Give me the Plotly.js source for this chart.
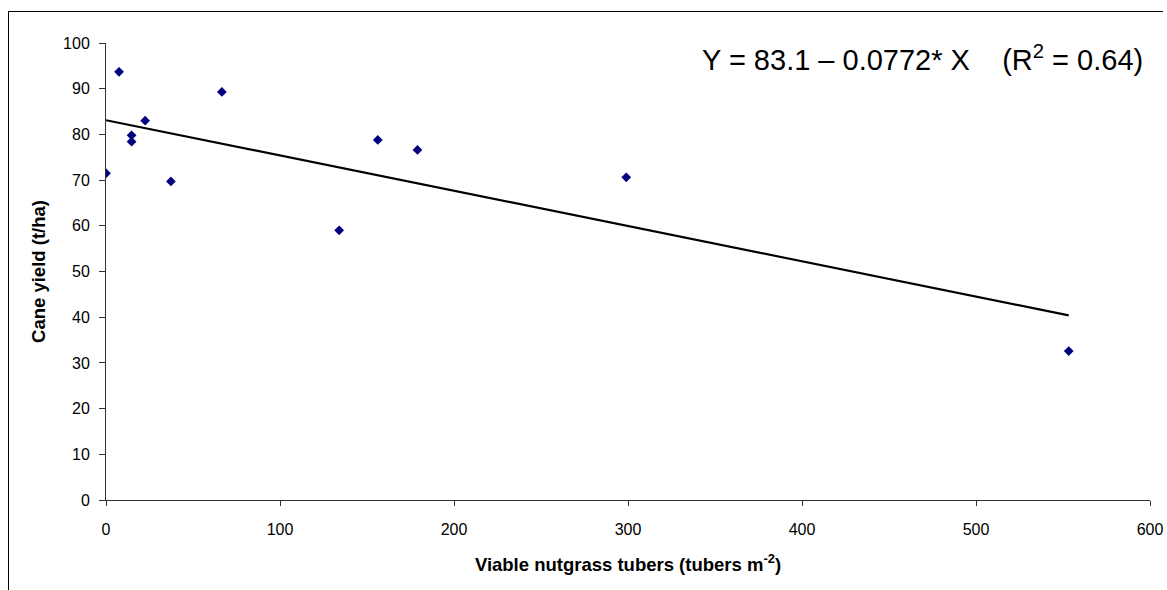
<!DOCTYPE html>
<html>
<head>
<meta charset="utf-8">
<script src="https://cdn.plot.ly/plotly-3.0.1.min.js"></script>
<style>
  html, body { margin: 0; padding: 0; background: #fff; }
  #wrap { position: relative; width: 1167px; height: 590px; }
  #chart { width: 1167px; height: 590px; }
  #frame { position: absolute; left: 8px; top: 11px; width: 1154px; height: 600px;
           border-left: 1px solid #000; border-top: 1px solid #000; pointer-events: none; }
</style>
</head>
<body>
<div id="wrap">
  <div id="chart"></div>
  <div id="frame"></div>
</div>
<script>
// Observed data (viable tubers per m2, cane yield t/ha)
const tubers = [0, 7.5, 14.7, 14.7, 22.5, 37.3, 66.6, 134, 156.2, 179, 299, 553.3];
const caneYield = [71.5, 93.7, 79.8, 78.4, 83.0, 69.7, 89.3, 59.0, 78.8, 76.6, 70.6, 32.6];

// Fitted regression line end points (Y = 83.1 - 0.0772 X)
const fitX = [0, 553.3];
const fitY = [83.1, 40.4];

const xTicks = [0, 100, 200, 300, 400, 500, 600];
const yTicks = [0, 10, 20, 30, 40, 50, 60, 70, 80, 90, 100];

const equationText = 'Y = 83.1 – 0.0772* X&nbsp;&nbsp;&nbsp;&nbsp;(R<sup>2</sup> = 0.64)';
const xTitle = 'Viable nutgrass tubers (tubers m<sup>-2</sup>)';
const yTitle = 'Cane yield (t/ha)';

const font = '"Liberation Sans", Arial, Helvetica, sans-serif';

const traces = [
  {
    x: fitX, y: fitY, type: 'scatter', mode: 'lines',
    line: { color: '#000000', width: 2.2 },
    hoverinfo: 'skip', showlegend: false
  },
  {
    x: tubers, y: caneYield, type: 'scatter', mode: 'markers',
    marker: { symbol: 'diamond', size: 7.5, color: '#000080', line: { width: 0 } },
    showlegend: false
  }
];

const layout = {
  width: 1167, height: 590,
  margin: { l: 106, r: 17, t: 42.5, b: 89.5 },
  paper_bgcolor: '#ffffff', plot_bgcolor: '#ffffff',
  font: { family: font, color: '#000000', size: 16 },
  showlegend: false,
  xaxis: {
    range: [0, 600], tickvals: xTicks, ticktext: xTicks.map(String),
    showgrid: false, zeroline: false, showline: true, linecolor: '#333333', linewidth: 1,
    ticks: 'outside', ticklen: 5, tickcolor: '#333333', tickwidth: 1,
    ticklabelstandoff: 10,
    tickfont: { family: font, size: 16, color: '#000000' },
    title: { text: xTitle, font: { family: font, size: 18.5, weight: 700, color: '#000000' }, standoff: 20 },
    fixedrange: true
  },
  yaxis: {
    range: [0, 100], tickvals: yTicks, ticktext: yTicks.map(String),
    showgrid: false, zeroline: false, showline: true, linecolor: '#333333', linewidth: 1,
    ticks: 'outside', ticklen: 6, tickcolor: '#333333', tickwidth: 1,
    ticklabelstandoff: 6,
    tickfont: { family: font, size: 16, color: '#000000' },
    title: { text: yTitle, font: { family: font, size: 18.5, weight: 700, color: '#000000' }, standoff: 12 },
    fixedrange: true
  },
  annotations: [
    {
      xref: 'paper', yref: 'paper', x: 0.995, y: 0.967, xanchor: 'right', yanchor: 'middle',
      text: equationText, showarrow: false,
      font: { family: font, size: 29, color: '#000000' }
    }
  ]
};

Plotly.newPlot('chart', traces, layout, { staticPlot: true, displayModeBar: false });
</script>
</body>
</html>
